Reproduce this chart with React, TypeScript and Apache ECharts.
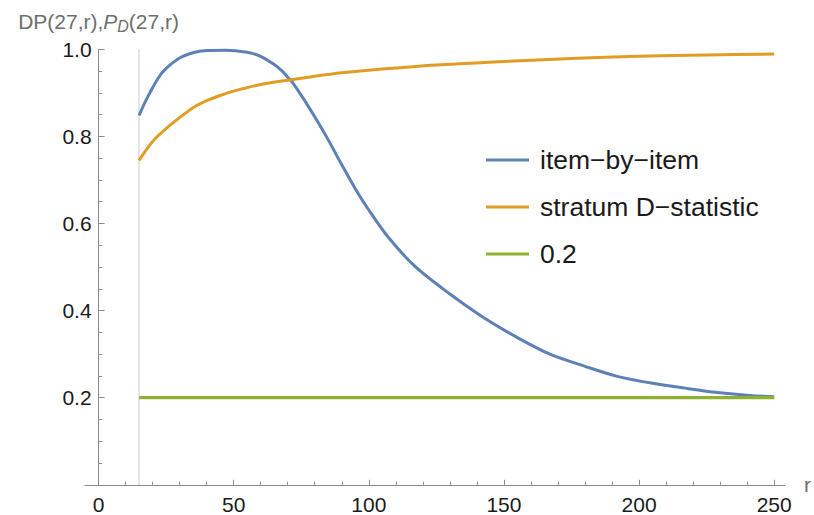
import React, { useEffect, useRef } from "react";
import * as echarts from "echarts";

// ---- data ----
const rBlue = [15, 17, 19, 22, 25, 30, 35, 40, 47, 55, 60, 65, 68, 70, 72, 76, 80, 85, 90, 95, 100, 107, 117, 130, 142, 155, 167, 180, 192, 205, 217, 229, 241, 250];
const itemByItem = [0.848, 0.876, 0.9, 0.933, 0.956, 0.98, 0.992, 0.997, 0.998, 0.993, 0.984, 0.965, 0.95, 0.936, 0.922, 0.885, 0.845, 0.792, 0.735, 0.68, 0.631, 0.57, 0.502, 0.438, 0.386, 0.338, 0.3, 0.272, 0.249, 0.233, 0.222, 0.212, 0.205, 0.202];
const rOrange = [15, 18, 21, 25, 30, 35, 40, 45, 50, 60, 70, 80, 90, 100, 110, 125, 150, 175, 200, 225, 250];
const stratumD = [0.745, 0.772, 0.795, 0.818, 0.843, 0.866, 0.882, 0.894, 0.904, 0.919, 0.929, 0.938, 0.946, 0.952, 0.957, 0.964, 0.972, 0.979, 0.984, 0.987, 0.989];
const rLevel = [15, 250];
const levelValues = [0.2, 0.2];
const startR = 15;

const seriesNames = ["item\u2212by\u2212item", "stratum D\u2212statistic", "0.2"];
const xMajorTicks = [0, 50, 100, 150, 200, 250];
const xMinorTicks = [10, 20, 30, 40, 60, 70, 80, 90, 110, 120, 130, 140, 160, 170, 180, 190, 210, 220, 230, 240];
const yTickInterval = 0.2;
const X_MIN = -5;
const X_MAX = 254;

const FONT = "'Liberation Sans', Arial, sans-serif";
const AXIS_COLOR = "#8a8a8a";
const LABEL_COLOR = "#1a1a1a";
const NAME_COLOR = "#6e6e6e";
const COLORS = ["#5e81b5", "#e19c24", "#8fb131"];

const GRID_LEFT = 85;
const GRID_RIGHT = 25.5;

const pairs = (xs: number[], ys: number[]) => xs.map((x, i) => [x, ys[i]]);

export default function App() {
  const ref = useRef<HTMLDivElement>(null);

  useEffect(() => {
    if (!ref.current) return;
    const chart = echarts.init(ref.current, null, { renderer: "svg" });
    // the y axis sits at r = 0: shift it in from the grid's left edge
    const plotWidth = 814 - GRID_LEFT - GRID_RIGHT;
    const yAxisShift = ((0 - X_MIN) / (X_MAX - X_MIN)) * plotWidth;
    chart.setOption({
      animation: false,
      backgroundColor: "#ffffff",
      color: COLORS,
      textStyle: { fontFamily: FONT },
      grid: { left: GRID_LEFT, right: GRID_RIGHT, top: 49.3, bottom: 30.2, containLabel: false },
      legend: {
        data: seriesNames,
        orient: "vertical",
        left: 481,
        top: 140,
        icon: "rect",
        itemWidth: 43,
        itemHeight: 3,
        itemGap: 17,
        selectedMode: false,
        textStyle: {
          fontFamily: FONT,
          fontSize: 26.5,
          color: LABEL_COLOR,
          lineHeight: 30,
          padding: [0, 0, 0, 6],
        },
      },
      xAxis: [
        {
          type: "value",
          min: X_MIN,
          max: X_MAX,
          name: "r",
          nameLocation: "end",
          nameGap: 19,
          nameTextStyle: { fontFamily: FONT, fontSize: 21, color: NAME_COLOR },
          axisLine: { show: true, onZero: true, lineStyle: { color: AXIS_COLOR, width: 1 } },
          axisTick: { show: true, inside: true, length: 5, customValues: xMajorTicks, lineStyle: { color: AXIS_COLOR } },
          axisLabel: {
            show: true,
            customValues: xMajorTicks,
            fontFamily: FONT,
            fontSize: 21,
            color: LABEL_COLOR,
            margin: 9,
          },
          splitLine: { show: false },
        },
        {
          type: "value",
          min: X_MIN,
          max: X_MAX,
          position: "bottom",
          axisLine: { show: false },
          axisTick: { show: true, inside: true, length: 3, customValues: xMinorTicks, lineStyle: { color: AXIS_COLOR } },
          axisLabel: { show: false },
          splitLine: { show: false },
        },
      ],
      yAxis: {
        type: "value",
        min: 0,
        max: 1,
        interval: yTickInterval,
        position: "left",
        offset: -yAxisShift,
        name: "{n|DP(27,r),}{i|P}{s|D}{n|(27,r)}",
        nameLocation: "end",
        nameGap: 15,
        nameTextStyle: {
          fontFamily: FONT,
          fontSize: 21,
          color: NAME_COLOR,
          rich: {
            n: { fontFamily: FONT, fontSize: 21, lineHeight: 26, color: NAME_COLOR },
            i: { fontFamily: FONT, fontSize: 21, lineHeight: 26, fontStyle: "italic", color: NAME_COLOR },
            s: { fontFamily: FONT, fontSize: 16, lineHeight: 16, fontStyle: "italic", color: NAME_COLOR, verticalAlign: "bottom" },
          },
        },
        axisLine: { show: true, onZero: false, lineStyle: { color: AXIS_COLOR, width: 1 } },
        axisTick: { show: true, inside: true, length: 6, lineStyle: { color: AXIS_COLOR } },
        minorTick: { show: true, splitNumber: 4, length: 3.5, lineStyle: { color: AXIS_COLOR } },
        axisLabel: {
          fontFamily: FONT,
          fontSize: 21,
          color: LABEL_COLOR,
          margin: 7,
          formatter: (v: number) => (v === 0 ? "" : v.toFixed(1)),
        },
        splitLine: { show: false },
        minorSplitLine: { show: false },
      },
      series: [
        {
          name: seriesNames[0],
          type: "line",
          data: pairs(rBlue, itemByItem),
          showSymbol: false,
          symbol: "none",
          smooth: 0.3,
          lineStyle: { width: 3, color: COLORS[0] },
          itemStyle: { color: COLORS[0] },
          z: 3,
        },
        {
          name: seriesNames[1],
          type: "line",
          data: pairs(rOrange, stratumD),
          showSymbol: false,
          symbol: "none",
          smooth: 0.3,
          lineStyle: { width: 3, color: COLORS[1] },
          itemStyle: { color: COLORS[1] },
          z: 4,
        },
        {
          name: seriesNames[2],
          type: "line",
          data: pairs(rLevel, levelValues),
          showSymbol: false,
          symbol: "none",
          lineStyle: { width: 3.2, color: COLORS[2] },
          itemStyle: { color: COLORS[2] },
          z: 5,
          markLine: {
            silent: true,
            symbol: ["none", "none"],
            label: { show: false },
            lineStyle: { color: "#dcdcdc", width: 1.5, type: "solid" },
            data: [{ xAxis: startR }],
            z: 1,
          },
        },
      ],
    });
    return () => chart.dispose();
  }, []);

  return (
    <div
      ref={ref}
      style={{ position: "fixed", left: 0, top: 0, width: 814, height: 515, background: "#ffffff" }}
    />
  );
}
